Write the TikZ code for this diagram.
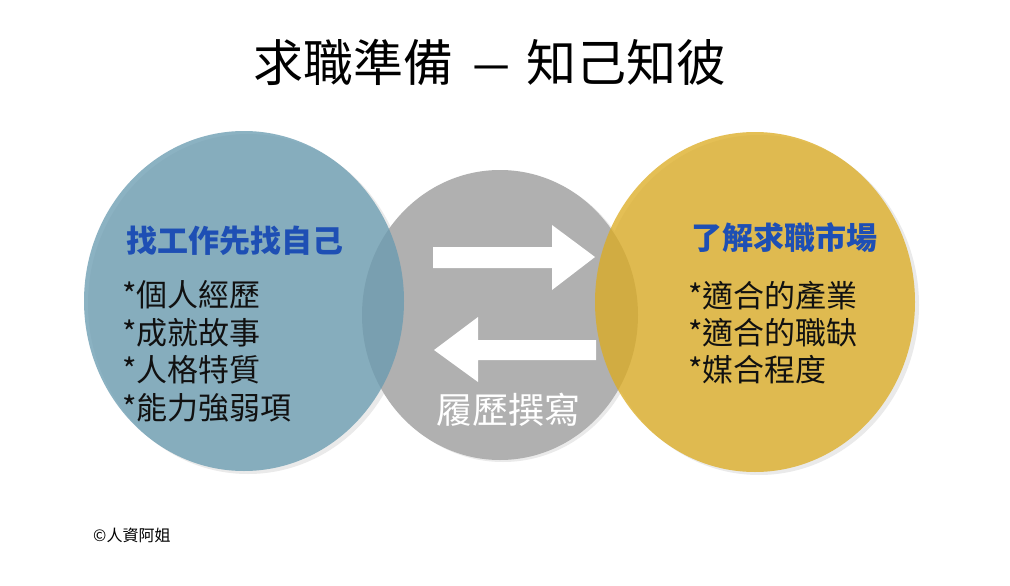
\documentclass[tikz,border=0pt]{standalone}
\usepackage{fontspec}
\newfontfamily\cjk{Noto Sans CJK TC}
\usetikzlibrary{positioning}
\definecolor{bluec}{HTML}{699BB0}
\definecolor{grayc}{HTML}{B0B0B0}
\definecolor{yelc}{HTML}{DCAC22}
\definecolor{headc}{HTML}{1E4FB4}
\definecolor{shadc}{HTML}{EAEAEA}
\definecolor{txtc}{HTML}{111111}
\tikzset{
  x=1pt, y=-1pt,
  shad/.style={fill=shadc, draw=none},
  head/.style={font=\cjk\bfseries\fontsize{31}{36}\selectfont, text=headc, anchor=west, inner sep=0pt},
  item/.style={font=\cjk\fontsize{31}{36}\selectfont, text=txtc, anchor=west, inner sep=0pt},
  arr/.style={fill=white, draw=none},
}
\begin{document}
\begin{tikzpicture}
\fill[white] (0,0) rectangle (1010,586);
\useasboundingbox (0,0) rectangle (1010,586);
% shadows
\fill[shad] (248,304) ellipse [x radius=160pt, y radius=170pt];
\fill[shad] (759,305) ellipse [x radius=160pt, y radius=170pt];
\fill[shad] (503,317) ellipse [x radius=138pt, y radius=145pt];
% circles
\fill[grayc] (500,315) ellipse [x radius=138pt, y radius=145pt];
\fill[bluec, opacity=0.77] (244,301) ellipse [x radius=160pt, y radius=170pt];
\fill[yelc, opacity=0.77] (755,302) ellipse [x radius=160pt, y radius=170pt];
% arrows
\fill[arr] (433,247) -- (552,247) -- (552,225) -- (595,257) -- (552,290) -- (552,268) -- (433,268) -- cycle;
\fill[arr] (596,340) -- (478,340) -- (478,317) -- (434,350) -- (478,382) -- (478,360) -- (596,360) -- cycle;
% texts
\node[font=\cjk\fontsize{50}{56}\selectfont, text=black, inner sep=0pt] (title) at (490,62) {求職準備\hspace{0.35em}\scalebox{1.5}[1]{–}\hspace{0.3em}知己知彼};
\node[head] (lh) at (126,241) {找工作先找自己};
\node[item] (l1) at (122,295) {*個人經歷};
\node[item] (l2) at (122,333) {*成就故事};
\node[item] (l3) at (122,370) {*人格特質};
\node[item] (l4) at (122,408) {*能力強弱項};
\node[head] (rh) at (691,238) {了解求職市場};
\node[item] (r1) at (688,296) {*適合的產業};
\node[item] (r2) at (688,333) {*適合的職缺};
\node[item] (r3) at (688,370) {*媒合程度};
\node[font=\cjk\fontsize{36}{40}\selectfont, text=white, inner sep=0pt] (mid) at (508,410) {履歷撰寫};
\node[font=\cjk\fontsize{16}{18}\selectfont, text=black, anchor=west, inner sep=0pt] (copy) at (93,535) {©人資阿姐};
\end{tikzpicture}
\end{document}
